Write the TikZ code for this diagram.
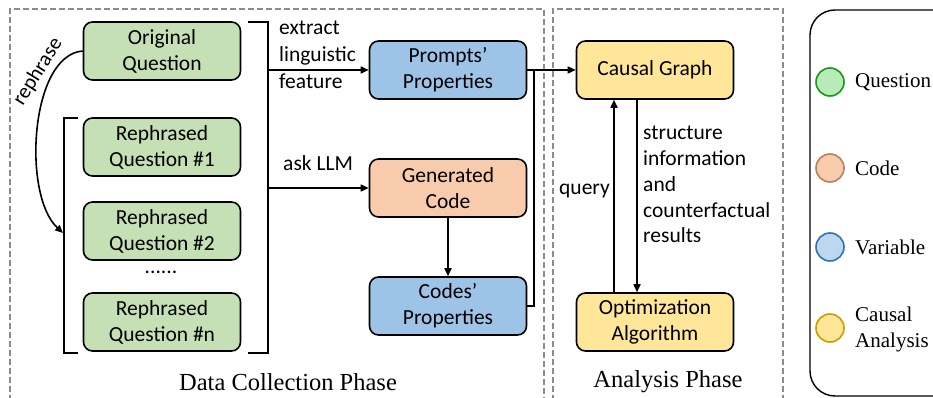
\documentclass[tikz,border=0pt]{standalone}
\usepackage{fontspec}
\setmainfont{Liberation Serif}
\newfontfamily\carlitofont{Carlito}
\usetikzlibrary{arrows.meta}
\definecolor{qfill}{HTML}{C5E0B4}
\definecolor{cfill}{HTML}{F8CBAD}
\definecolor{vfill}{HTML}{9DC3E6}
\definecolor{yfill}{HTML}{FFE699}
\definecolor{lgq}{HTML}{B9EBB9}
\definecolor{lgqd}{HTML}{169A16}
\definecolor{lgcd}{HTML}{B4825A}
\definecolor{lgv}{HTML}{BDD7EE}
\definecolor{lgvd}{HTML}{2E75B6}
\definecolor{lgyd}{HTML}{C99F00}
\definecolor{dgray}{HTML}{8C8C8C}
\tikzset{
  box/.style={draw=black, line width=1.6pt, rounded corners=9pt, minimum width=157pt, minimum height=58pt, inner sep=0pt, align=center, font=\carlitofont\fontsize{21.5}{26}\selectfont},
  lbl/.style={inner sep=0pt, font=\carlitofont\fontsize{21.5}{26}\selectfont},
  arr/.style={line width=1.6pt, -{Triangle[length=8pt,width=7pt]}},
  ln/.style={line width=1.6pt},
  phase/.style={draw=dgray, line width=1.5pt, dash pattern=on 6pt off 3pt},
  ttl/.style={inner sep=0pt, font=\fontsize{24.5}{28}\selectfont},
  lgc/.style={circle, line width=1.6pt, minimum size=28pt, inner sep=0pt},
  lgt/.style={inner sep=0pt, anchor=west, align=left, font=\fontsize{21}{26}\selectfont},
}
\begin{document}
\begin{tikzpicture}[x=1pt,y=-1pt]
\useasboundingbox (0,0) rectangle (933,398);
% phase boxes
\draw[phase] (10,410) -- (10,9) -- (544,9) -- (544,410);
\draw[phase] (553,410) -- (553,9) -- (783,9) -- (783,410);
\draw[line width=1.4pt, rounded corners=25pt] (810,396) rectangle (990,10);
% question nodes
\node[box, fill=qfill] (oq) at (162,51) {Original\\Question};
\node[box, fill=qfill] (r1) at (162,147) {Rephrased\\Question \#1};
\node[box, fill=qfill] (r2) at (162,231) {Rephrased\\Question \#2};
\node[lbl] (dots) at (161,272) {......};
\node[box, fill=qfill] (rn) at (162,322) {Rephrased\\Question \#n};
% brackets
\coordinate (lbt) at (78,118);
\coordinate (lbb) at (78,353);
\coordinate (lbx) at (64,0);
\coordinate (rbt) at (248,22);
\coordinate (rbb) at (248,353);
\coordinate (rbx) at (268,0);
\draw[ln] (lbt) -- (lbt -| lbx) -- (lbb -| lbx) -- (lbb);
\draw[ln] (rbt) -- (rbt -| rbx) -- (rbb -| rbx) -- (rbb);
% rephrase
\coordinate (rpend) at (63,233);
\draw[arr] (oq.west) .. controls (30,55) and (22,195) .. (rpend);
\node[inner sep=0pt, font=\carlitofont\fontsize{21}{24}\selectfont, rotate=58] (rph) at (38,72) {rephrase};
% middle column
\node[box, fill=vfill] (pp) at (448,70) {Prompts’\\Properties};
\node[box, fill=cfill] (gc) at (448,188) {Generated\\Code};
\node[box, fill=vfill] (cp) at (448,306) {Codes’\\Properties};
\draw[arr] (pp.west -| rbx) -- (pp.west);
\draw[arr] (gc.west -| rbx) -- (gc.west);
\draw[arr] (gc.south) -- (cp.north);
\node[lbl, anchor=west, align=left, font=\carlitofont\fontsize{21.5}{26.8}\selectfont] (ex) at (279,55) {extract\\linguistic\\feature};
\node[lbl, anchor=west] (ask) at (283,163) {ask LLM};
% analysis
\node[box, fill=yfill] (cg) at (655,70) {Causal Graph};
\node[box, fill=yfill] (op) at (655,322) {Optimization\\Algorithm};
\coordinate (jx) at (534,0);
\draw[ln] (cp.east) -- (cp.east -| jx) -- (pp.east -| jx);
\draw[arr] (pp.east) -- (cg.west);
\coordinate (qx) at (614,0);
\coordinate (dx) at (637,0);
\draw[arr] (op.north -| qx) -- (cg.south -| qx);
\draw[arr] (cg.south -| dx) -- (op.north -| dx);
\node[lbl, anchor=east] (qy) at (610,191) {query};
\node[lbl, anchor=north west, align=left, font=\carlitofont\fontsize{21.5}{25.8}\selectfont] (si) at (643,126) {structure\\information\\and\\counterfactual\\results};
% titles
\node[ttl] (t1) at (288,382) {Data Collection Phase};
\node[ttl] (t2) at (668,382) {Analysis Phase};
% legend
\node[lgc, draw=lgqd, fill=lgq] (c1) at (830,82) {};
\node[lgc, draw=lgcd, fill=cfill] (c2) at (830,168) {};
\node[lgc, draw=lgvd, fill=lgv] (c3) at (830,247) {};
\node[lgc, draw=lgyd, fill=yfill] (c4) at (830,328) {};
\node[lgt] (l1) at (855,82) {Question};
\node[lgt] (l2) at (855,168) {Code};
\node[lgt] (l3) at (855,247) {Variable};
\node[lgt] (l4) at (855,329) {Causal\\Analysis};
\end{tikzpicture}
\end{document}
